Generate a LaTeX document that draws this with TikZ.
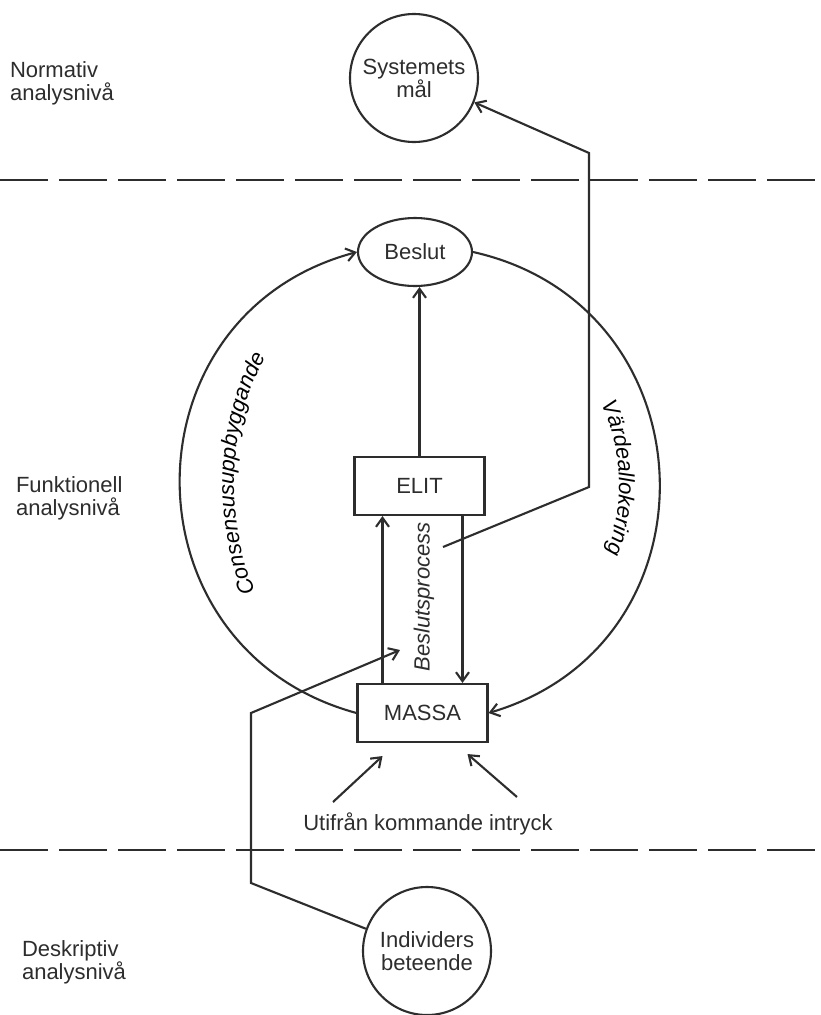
\documentclass[tikz,border=0pt]{standalone}
\usepackage{fontspec}
\setmainfont{Liberation Sans}
\usetikzlibrary{shapes.geometric,arrows.meta,decorations.text}
\definecolor{ink}{RGB}{45,45,45}
\newcommand\lblfont{\fontsize{22}{23}\selectfont}
\newcommand\slantfont{\itshape\fontsize{22}{22}\selectfont}

\begin{document}
\begin{tikzpicture}[x=1pt,y=1pt,
  line width=2.1pt, color=ink, font=\lblfont,
  every node/.style={inner sep=0pt},
  level/.style={align=left, anchor=west},
  bubble/.style={circle, draw, minimum size=128pt, align=center},
  actor/.style={rectangle, draw, minimum width=130pt, minimum height=58pt},
  arr/.style={-{Straight Barb[length=9pt,width=13pt]}},
  divider/.style={dash pattern=on 48pt off 11pt},
  arclabel/.style={decorate, decoration={text along path, text align=center, text={#1}}},
]
\useasboundingbox (0,0) rectangle (820,-1015);
\fill[white] (0,0) rectangle (820,-1015);

% level names on the left
\node[level] (norm) at (9,-83) {Normativ\\analysnivå};
\node[level] (funk) at (15,-498) {Funktionell\\analysnivå};
\node[level] (desk) at (21,-962) {Deskriptiv\\analysnivå};

% level dividers
\coordinate (d1l) at (0,-180);   \coordinate (d1r) at (820,-180);
\coordinate (d2l) at (0,-850);   \coordinate (d2r) at (820,-850);
\draw[divider] (d1l) -- (d1r);
\draw[divider] (d2l) -- (d2r);

% main nodes
\node[bubble] (sys) at (414,-78) {Systemets\\mål};
\node[ellipse, draw, minimum width=114pt, minimum height=68pt] (beslut) at (415,-252) {Beslut};
\node[actor] (elit) at (419.5,-486) {ELIT};
\node[actor] (massa) at (422.5,-713) {MASSA};
\node[rotate=90, font=\slantfont] (bp) at (424,-597) {Beslutsprocess};
\node (intryck) at (428,-824) {Utifrån kommande intryck};
\node[bubble] (indiv) at (427,-951) {Individers\\beteende};

% decision process between elite and mass
\draw[arr] (elit.north) -- (elit.north |- beslut.south);
\draw[arr] ([xshift=-40pt]massa.north) -- ([xshift=-40pt]massa.north |- elit.south);
\draw[arr] ([xshift=43pt]elit.south) -- ([xshift=43pt]elit.south |- massa.north);

% the two halves of the cycle
\draw[arr] (massa.west) .. controls +(164.8:244) and +(194.9:244) .. (beslut.west);
\draw[arr] (beslut.east) .. controls +(-12.6:246) and +(16.4:246) .. (massa.east);

% curved labels along the cycle
\path[arclabel={|\slantfont|Consensusuppbyggande}]
  ([shift={(215:276)}]510,-485) arc[start angle=215, end angle=140, radius=276];
\path[arclabel={|\slantfont|Värdeallokering}]
  ([shift={(40:199)}]420,-485) arc[start angle=40, end angle=-36, radius=199];

% link from the process to the system goals
\coordinate (vstart) at (443,-547);
\coordinate (vknee) at (589,-487);
\coordinate (vtop) at (589,-153);
\draw[arr] (vstart) -- (vknee) -- (vtop) -- (sys.-22);

% link from individual behaviour to the process
\coordinate (iknee) at (251,-883);
\coordinate (icorner) at (251,-713);
\coordinate (itip) at (400,-650);
\draw[arr] (indiv.160) -- (iknee) -- (icorner) -- (itip);

% outside impressions acting on the mass
\coordinate (ileft) at (333,-802);
\coordinate (iright) at (517,-797);
\draw[arr] (ileft) -- ([shift={(-40,-13)}]massa.south);
\draw[arr] (iright) -- ([shift={(45,-11)}]massa.south);
\end{tikzpicture}
\end{document}
